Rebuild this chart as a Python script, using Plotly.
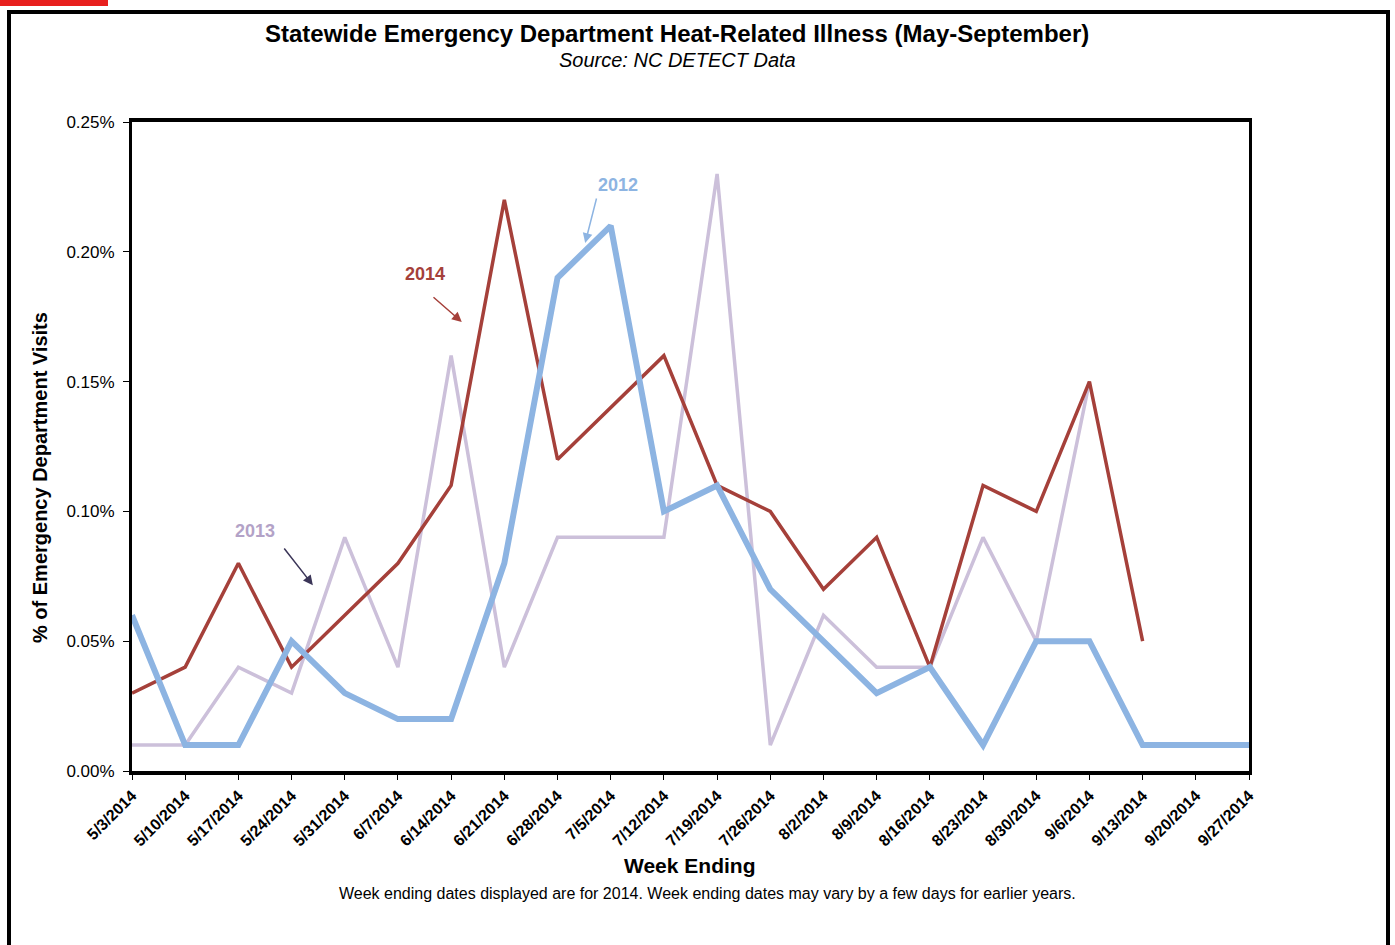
import plotly.graph_objects as go

weeks = ["5/3/2014", "5/10/2014", "5/17/2014", "5/24/2014", "5/31/2014", "6/7/2014",
         "6/14/2014", "6/21/2014", "6/28/2014", "7/5/2014", "7/12/2014", "7/19/2014",
         "7/26/2014", "8/2/2014", "8/9/2014", "8/16/2014", "8/23/2014", "8/30/2014",
         "9/6/2014", "9/13/2014", "9/20/2014", "9/27/2014"]

y2012 = [0.06, 0.01, 0.01, 0.05, 0.03, 0.02, 0.02, 0.08, 0.19, 0.21, 0.10, 0.11,
         0.07, 0.05, 0.03, 0.04, 0.01, 0.05, 0.05, 0.01, 0.01, 0.01]
y2013 = [0.01, 0.01, 0.04, 0.03, 0.09, 0.04, 0.16, 0.04, 0.09, 0.09, 0.09, 0.23,
         0.01, 0.06, 0.04, 0.04, 0.09, 0.05, 0.15, None, None, None]
y2014 = [0.03, 0.04, 0.08, 0.04, 0.06, 0.08, 0.11, 0.22, 0.12, 0.14, 0.16, 0.11,
         0.10, 0.07, 0.09, 0.04, 0.11, 0.10, 0.15, 0.05, None, None]

y_ticks = [0.00, 0.05, 0.10, 0.15, 0.20, 0.25]

C2012 = "#8DB4E2"
C2013 = "#CCC0DA"
C2014 = "#A5403A"
FONT = "Liberation Sans, Arial, sans-serif"

W, H = 1395, 945
L, R, T, B = 132, 1249, 122, 771

idx = list(range(len(weeks)))

fig = go.Figure()
fig.add_trace(go.Scatter(x=idx, y=y2013, mode="lines", name="2013",
                         line=dict(color=C2013, width=3.5), connectgaps=False))
fig.add_trace(go.Scatter(x=idx, y=y2014, mode="lines", name="2014",
                         line=dict(color=C2014, width=3.5), connectgaps=False))
fig.add_trace(go.Scatter(x=idx, y=y2012, mode="lines", name="2012",
                         line=dict(color=C2012, width=6), connectgaps=False))


def px2paper(px, py):
    return (px - L) / (R - L), (B - py) / (B - T)


shapes = []
# outer frame
x0, y0 = px2paper(9, 12)
x1, y1 = px2paper(1388, 960)
shapes.append(dict(type="rect", xref="paper", yref="paper", x0=x0, y0=y1, x1=x1, y1=y0,
                   line=dict(color="black", width=4), layer="below"))
# red marker at top-left
rx0, ry0 = px2paper(0, 0)
rx1, ry1 = px2paper(108, 6)
shapes.append(dict(type="rect", xref="paper", yref="paper", x0=rx0, y0=ry1, x1=rx1, y1=ry0,
                   line=dict(width=0), fillcolor="#E8201E"))

annotations = []
tx, ty = px2paper(677, 34)
annotations.append(dict(text="<b>Statewide Emergency Department Heat-Related Illness (May-September)</b>",
                        xref="paper", yref="paper", x=tx, y=ty, showarrow=False,
                        font=dict(family=FONT, size=24, color="black"), xanchor="center", yanchor="middle"))
tx, ty = px2paper(677, 60)
annotations.append(dict(text="<i>Source: NC DETECT Data</i>",
                        xref="paper", yref="paper", x=tx, y=ty, showarrow=False,
                        font=dict(family=FONT, size=20, color="black"), xanchor="center", yanchor="middle"))
tx, ty = px2paper(707, 893)
annotations.append(dict(text="Week ending dates displayed are for 2014. Week ending dates may vary by a few days for earlier years.",
                        xref="paper", yref="paper", x=tx, y=ty, showarrow=False,
                        font=dict(family=FONT, size=16, color="black"), xanchor="center", yanchor="middle"))
tx, ty = px2paper(689, 865)
annotations.append(dict(text="<b>Week Ending</b>",
                        xref="paper", yref="paper", x=tx, y=ty, showarrow=False,
                        font=dict(family=FONT, size=21, color="black"), xanchor="center", yanchor="middle"))
tx, ty = px2paper(40, 478)
annotations.append(dict(text="<b>% of Emergency Department Visits</b>", textangle=-90,
                        xref="paper", yref="paper", x=tx, y=ty, showarrow=False,
                        font=dict(family=FONT, size=20, color="black"), xanchor="center", yanchor="middle"))

# series labels
annotations.append(dict(text="<b>2012</b>", x=9.14, y=0.2257, xref="x", yref="y", showarrow=False,
                        font=dict(family=FONT, size=18, color=C2012)))
annotations.append(dict(text="<b>2014</b>", x=5.51, y=0.1914, xref="x", yref="y", showarrow=False,
                        font=dict(family=FONT, size=18, color=C2014)))
annotations.append(dict(text="<b>2013</b>", x=2.31, y=0.0924, xref="x", yref="y", showarrow=False,
                        font=dict(family=FONT, size=18, color="#B3A2C7")))
# arrows
annotations.append(dict(text="", x=8.52, y=0.2034, ax=8.74, ay=0.2211, xref="x", yref="y",
                        axref="x", ayref="y", showarrow=True, arrowhead=2, arrowsize=1.3,
                        arrowwidth=1.5, arrowcolor=C2012))
annotations.append(dict(text="", x=6.20, y=0.1730, ax=5.64, ay=0.1830, xref="x", yref="y",
                        axref="x", ayref="y", showarrow=True, arrowhead=2, arrowsize=1.3,
                        arrowwidth=1.5, arrowcolor=C2014))
annotations.append(dict(text="", x=3.40, y=0.0716, ax=2.84, ay=0.0863, xref="x", yref="y",
                        axref="x", ayref="y", showarrow=True, arrowhead=2, arrowsize=1.3,
                        arrowwidth=1.5, arrowcolor="#3B3558"))

fig.update_layout(
    width=W, height=H,
    margin=dict(l=L, r=W - R, t=T, b=H - B, pad=0),
    paper_bgcolor="white", plot_bgcolor="white",
    showlegend=False,
    shapes=shapes,
    annotations=annotations,
    font=dict(family=FONT, color="black"),
)

fig.update_xaxes(
    range=[0, len(weeks) - 1],
    tickmode="array", tickvals=idx,
    ticktext=["<b>" + w + "</b>" for w in weeks],
    tickangle=-45, tickfont=dict(family=FONT, size=16, color="black"),
    showline=True, linewidth=4, linecolor="black", mirror=True,
    ticks="outside", ticklen=5, tickwidth=1, tickcolor="black",
    showgrid=False, zeroline=False,
)
fig.update_yaxes(
    range=[0, 0.25],
    tickmode="array", tickvals=y_ticks,
    ticktext=[f"{v:.2f}%" for v in y_ticks],
    tickfont=dict(family=FONT, size=17, color="black"),
    showline=True, linewidth=3, linecolor="black", mirror=True,
    ticks="outside", ticklen=6, tickwidth=1, tickcolor="black",
    ticklabelstandoff=5,
    showgrid=False, zeroline=False,
)

fig.write_html("out.html", config={"displayModeBar": False},
               post_script="document.body.style.margin='0';document.body.style.overflow='hidden';")
